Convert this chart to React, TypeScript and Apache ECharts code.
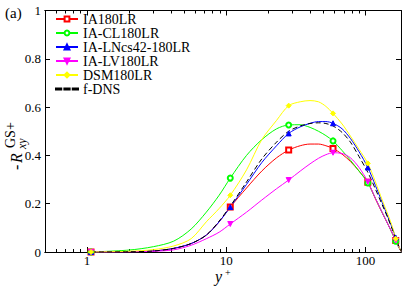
import React, { useEffect, useRef } from "react";
import * as echarts from "echarts";

// y+ grid (log axis) and indices where markers are drawn
const yPlus = [1.07, 2.0, 3.0, 4.2, 5.6, 7.2, 8.9, 10.7, 14, 18, 23, 28.1, 34, 40, 46, 52, 58.5, 68, 78, 90, 104, 118, 132, 145, 156, 165, 172, 180];
const markerIndex = [0, 7, 11, 16, 20, 25];

const ia180lr = [0, 0.001, 0.004, 0.015, 0.035, 0.07, 0.125, 0.186, 0.265, 0.335, 0.39, 0.422, 0.44, 0.447, 0.447, 0.44, 0.429, 0.405, 0.375, 0.335, 0.289, 0.22, 0.162, 0.115, 0.077, 0.048, 0.024, 0.003];
const iaCl180lr = [0, 0.008, 0.022, 0.045, 0.095, 0.165, 0.235, 0.306, 0.4, 0.465, 0.51, 0.526, 0.527, 0.516, 0.5, 0.482, 0.46, 0.42, 0.38, 0.335, 0.286, 0.222, 0.163, 0.115, 0.076, 0.045, 0.023, 0.003];
const iaLncs42 = [0, 0.001, 0.004, 0.015, 0.035, 0.07, 0.125, 0.186, 0.28, 0.37, 0.44, 0.491, 0.518, 0.533, 0.54, 0.54, 0.533, 0.51, 0.47, 0.415, 0.35, 0.275, 0.205, 0.145, 0.098, 0.06, 0.03, 0.003];
const iaLv180lr = [0, 0.001, 0.003, 0.009, 0.028, 0.055, 0.082, 0.116, 0.165, 0.215, 0.262, 0.298, 0.335, 0.365, 0.388, 0.403, 0.411, 0.408, 0.39, 0.35, 0.291, 0.222, 0.163, 0.115, 0.078, 0.048, 0.025, 0.003];
const dsm180lr = [0, 0.003, 0.01, 0.025, 0.055, 0.125, 0.18, 0.235, 0.34, 0.465, 0.545, 0.606, 0.622, 0.627, 0.622, 0.603, 0.574, 0.53, 0.48, 0.425, 0.367, 0.29, 0.215, 0.155, 0.105, 0.055, 0.03, 0.003];
const fDns = [0, 0.001, 0.004, 0.015, 0.035, 0.07, 0.128, 0.19, 0.29, 0.385, 0.455, 0.5, 0.522, 0.532, 0.535, 0.532, 0.522, 0.495, 0.455, 0.395, 0.33, 0.26, 0.195, 0.14, 0.093, 0.057, 0.03, 0.003];

const majorX = [1, 10, 100];
const minorX = [0.6, 0.7, 0.8, 0.9, 2, 3, 4, 5, 6, 7, 8, 9, 20, 30, 40, 50, 60, 70, 80, 90];

const SERIF = "Liberation Serif";

function lineSeries(name: string, vals: number[], color: string, symbol: string, opts: any = {}) {
  return {
    type: "line",
    name,
    xAxisIndex: 0,
    yAxisIndex: 0,
    data: yPlus.map((x, i) =>
      markerIndex.includes(i) && symbol !== "none"
        ? { value: [x, vals[i]] }
        : { value: [x, vals[i]], symbol: "none" }
    ),
    symbol,
    symbolSize: opts.size || 5,
    showAllSymbol: true,
    smooth: 0.3,
    color,
    lineStyle: { color, width: 1, type: opts.dashed ? [5, 3] : "solid" },
    itemStyle: { color, borderColor: color, borderWidth: 1 },
    symbolRotate: opts.rotate || 0,
    emphasis: { disabled: true },
    silent: true,
  };
}

export default function App() {
  const ref = useRef<HTMLDivElement>(null);
  useEffect(() => {
    const chart = echarts.init(ref.current!, null, { renderer: "svg" });
    const black = { color: "#000", width: 1 };
    const xBase = {
      type: "log",
      logBase: 10,
      min: 0.5,
      max: 180,
      gridIndex: 0,
      axisLine: { show: true, lineStyle: black },
      splitLine: { show: false },
      minorTick: { show: false },
      minorSplitLine: { show: false },
    };
    const yBase = {
      type: "value",
      min: 0,
      max: 1,
      interval: 0.2,
      gridIndex: 0,
      axisLine: { show: true, lineStyle: black },
      splitLine: { show: false },
    };
    chart.setOption({
      animation: false,
      backgroundColor: "#fff",
      textStyle: { fontFamily: SERIF },
      grid: { left: 45, right: 14, top: 10.5, bottom: 34, containLabel: false },
      legend: {
        orient: "vertical",
        left: 55,
        top: 12,
        padding: 0,
        itemGap: 0,
        itemWidth: 22,
        itemHeight: 6,
        textStyle: { fontFamily: SERIF, fontSize: 14, color: "#000", lineHeight: 11.7 },
        data: [
          "IA180LR",
          "IA-CL180LR",
          "IA-LNcs42-180LR",
          "IA-LV180LR",
          "DSM180LR",
          { name: "f-DNS", icon: "path://M0 0h5v1H0z M8 0h5v1H8z M16 0h5v1H16z" },
        ],
      },
      xAxis: [
        {
          ...xBase,
          position: "bottom",
          axisTick: { show: true, inside: true, length: 5, customValues: majorX, lineStyle: black },
          axisLabel: {
            show: true,
            customValues: majorX,
            fontFamily: SERIF,
            fontSize: 13,
            color: "#000",
            margin: 2,
            formatter: (v: number) => String(Math.round(v)),
          },
        },
        {
          ...xBase,
          position: "bottom",
          axisTick: { show: true, inside: true, length: 3, customValues: minorX, lineStyle: black },
          axisLabel: { show: false },
        },
        {
          ...xBase,
          position: "top",
          axisTick: { show: true, inside: true, length: 5, customValues: majorX, lineStyle: black },
          axisLabel: { show: false },
        },
        {
          ...xBase,
          position: "top",
          axisTick: { show: true, inside: true, length: 3, customValues: minorX, lineStyle: black },
          axisLabel: { show: false },
        },
      ],
      yAxis: [
        {
          ...yBase,
          position: "left",
          axisTick: { show: true, inside: true, length: 5, lineStyle: black },
          axisLabel: { fontFamily: SERIF, fontSize: 13, color: "#000", margin: 4 },
        },
        {
          ...yBase,
          position: "right",
          axisTick: { show: true, inside: true, length: 5, lineStyle: black },
          axisLabel: { show: false },
        },
      ],
      graphic: [
        {
          type: "text",
          x: 5,
          y: 5,
          style: { text: "(a)", fontFamily: SERIF, fontSize: 15, fill: "#000" },
        },
        {
          type: "text",
          x: 215,
          y: 268,
          style: { text: "y", fontFamily: SERIF, fontSize: 16, fontStyle: "italic", fill: "#000" },
        },
        {
          type: "text",
          x: 225,
          y: 267,
          style: { text: "+", fontFamily: SERIF, fontSize: 10, fill: "#000" },
        },
        {
          type: "group",
          x: 24,
          y: 170,
          rotation: Math.PI / 2,
          children: [
            {
              type: "text",
              x: 0,
              y: 0,
              style: { text: "-", fontFamily: SERIF, fontSize: 16, fill: "#000", verticalAlign: "bottom" },
            },
            {
              type: "text",
              x: 7,
              y: 0,
              style: { text: "R", fontFamily: SERIF, fontSize: 16, fontStyle: "italic", fill: "#000", verticalAlign: "bottom" },
            },
            {
              type: "text",
              x: 22,
              y: -7,
              style: { text: "GS+", fontFamily: SERIF, fontSize: 14, fill: "#000", verticalAlign: "bottom" },
            },
            {
              type: "text",
              x: 21,
              y: 4,
              style: { text: "xy", fontFamily: SERIF, fontSize: 12, fontStyle: "italic", fill: "#000", verticalAlign: "bottom" },
            },
          ],
        },
      ],
      series: [
        lineSeries("IA180LR", ia180lr, "#ff0000", "emptyRect"),
        lineSeries("IA-CL180LR", iaCl180lr, "#00ff00", "emptyCircle"),
        lineSeries("IA-LNcs42-180LR", iaLncs42, "#0000ff", "triangle"),
        lineSeries("IA-LV180LR", iaLv180lr, "#ff00ff", "triangle", { rotate: 180 }),
        lineSeries("DSM180LR", dsm180lr, "#ffff00", "diamond"),
        lineSeries("f-DNS", fDns, "#000000", "none", { dashed: true }),
      ],
    });
    return () => chart.dispose();
  }, []);
  return <div ref={ref} style={{ position: "absolute", left: 0, top: 0, width: 415, height: 286 }} />;
}
